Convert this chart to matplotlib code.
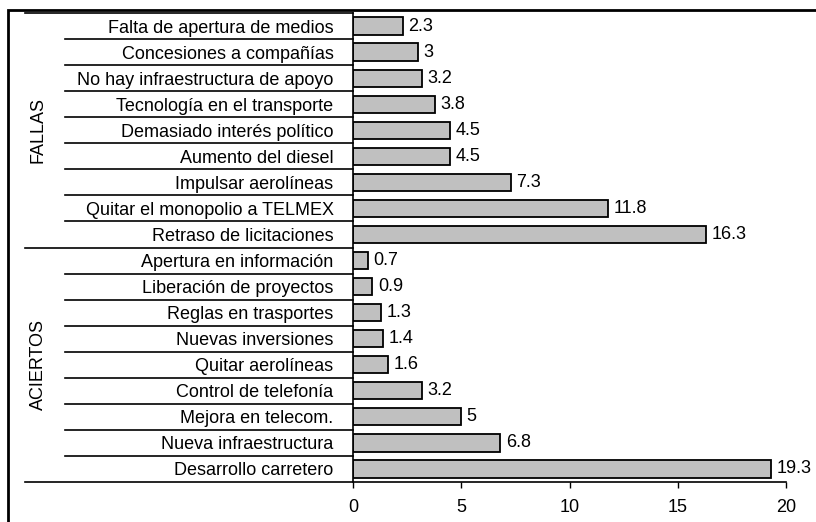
import matplotlib.pyplot as plt
import matplotlib.transforms as mtransforms
from matplotlib.patches import Rectangle

# -----------------------------
# DATA (bottom to top)
# -----------------------------
aciertos = ["Desarrollo carretero", "Nueva infraestructura", "Mejora en telecom.",
            "Control de telefonía", "Quitar aerolíneas", "Nuevas inversiones",
            "Reglas en trasportes", "Liberación de proyectos", "Apertura en información"]
aciertos_vals = [19.3, 6.8, 5, 3.2, 1.6, 1.4, 1.3, 0.9, 0.7]

fallas = ["Retraso de licitaciones", "Quitar el monopolio a TELMEX", "Impulsar aerolíneas",
          "Aumento del diesel", "Demasiado interés político", "Tecnología en el transporte",
          "No hay infraestructura de apoyo", "Concesiones a compañías",
          "Falta de apertura de medios"]
fallas_vals = [16.3, 11.8, 7.3, 4.5, 4.5, 3.8, 3.2, 3, 2.3]

groups = ["ACIERTOS", "FALLAS"]
x_ticks = [0, 5, 10, 15, 20]

labels = aciertos + fallas
values = aciertos_vals + fallas_vals

plt.rcParams["font.family"] = ["Liberation Sans", "DejaVu Sans"]
FS = 13

# -----------------------------
# CHART
# -----------------------------
fig = plt.figure(figsize=(8.16, 5.22), dpi=100)
W, H = 816, 522
x0, x1, ytop, ybot = 353, 786, 13, 482
ax = fig.add_axes([x0 / W, 1 - ybot / H, (x1 - x0) / W, (ybot - ytop) / H])

pos = list(range(len(labels)))
bars = ax.barh(pos, values, height=0.66, color="#c0c0c0", edgecolor="black", linewidth=1.3)
ax.bar_label(bars, labels=[f"{v:g}" for v in values], padding=4, fontsize=FS)

ax.set_xlim(0, 20)
ax.set_ylim(-0.5, len(labels) - 0.5)
ax.set_xticks(x_ticks)
ax.set_xticklabels([str(t) for t in x_ticks], fontsize=FS)
ax.set_yticks(pos)
ax.set_yticklabels(labels, fontsize=FS)
ax.tick_params(axis="y", length=0, pad=14)
ax.tick_params(axis="x", direction="out", length=4, width=1, pad=8)

for s in ["top", "right", "bottom"]:
    ax.spines[s].set_visible(False)
ax.spines["left"].set_linewidth(1.2)

# separator lines in label area
trans = mtransforms.blended_transform_factory(ax.transAxes, ax.transData)
x_cat = (65 - x0) / (x1 - x0)
x_grp = (25 - x0) / (x1 - x0)
n = len(aciertos)
for i in range(len(labels) + 1):
    y = i - 0.5
    if i in (0, n, len(labels)):
        xs = [x_grp, 1.0 if i == 0 else 0]
    else:
        xs = [x_cat, 0]
    ax.plot(xs, [y, y], color="black", lw=1.2, transform=trans, clip_on=False)

# group labels
x_glab = (38 - x0) / (x1 - x0)
ax.text(x_glab, (n - 1) / 2, groups[0], rotation=90, ha="center", va="center",
        fontsize=FS, transform=trans)
ax.text(x_glab, n + (len(fallas) - 1) / 2, groups[1], rotation=90, ha="center",
        va="center", fontsize=FS, transform=trans)

# outer border
fig.patches.append(Rectangle((8 / W, -0.1), 1.2, 1 - 10 / H + 0.1, transform=fig.transFigure,
                             fill=False, edgecolor="black", linewidth=2))

plt.savefig("out.png", dpi=100)
plt.close()
